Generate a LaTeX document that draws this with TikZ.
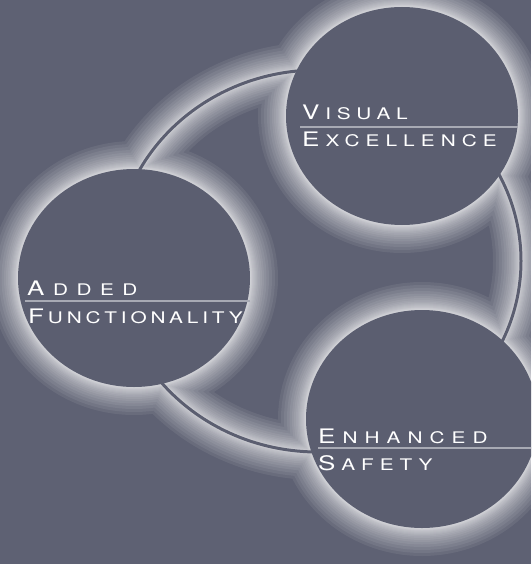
\documentclass[tikz,border=0pt]{standalone}
\usepackage{fontspec}
\usetikzlibrary{shapes.geometric}
\newfontfamily\bigcapfont[FakeStretch=1.3]{TeX Gyre Heros}
\newfontfamily\smallcapfont[FakeStretch=1.3]{TeX Gyre Heros}
% #1 = letter spacing (percent of the small size)
\newcommand\capword[3][40]{{\fontsize{20}{20}\bigcapfont #2}\kern\dimexpr #1pt*16/100\relax
  {\fontsize{16}{16}\smallcapfont\addfontfeatures{LetterSpace=#1}#3}}

\definecolor{slatebg}{RGB}{94,97,115}
\definecolor{discfill}{RGB}{91,94,112}
\definecolor{rulegray}{RGB}{168,170,180}

\tikzset{
  disc/.style={ellipse, fill=discfill, minimum width=232pt, minimum height=218pt, inner sep=0pt},
  word/.style={inner sep=0pt, anchor=base west, text=white},
  textrule/.style={draw=rulegray, line width=2pt},
  ringline/.style={draw=discfill, line width=3pt},
}

\begin{document}
\begin{tikzpicture}[x=1pt, y=-1pt]
  \useasboundingbox (0,0) rectangle (531,564);
  \clip (0,0) rectangle (531,564);
  \fill[slatebg] (0,0) rectangle (531,564);

  % centres
  \coordinate (ringc) at (318,261);
  \coordinate (vc) at (402,116);
  \coordinate (fc) at (134,278);
  \coordinate (sc) at (422,419);

  % glow
  \foreach \w in {2,3,4,5,6,8,10,12,14,17,20,24,28,33,38,44,50,56}
    \draw[white, opacity=0.07, line width=\w pt]
      (ringc) ellipse (203pt and 191pt)
      (vc) ellipse (116pt and 109pt)
      (fc) ellipse (116pt and 109pt)
      (sc) ellipse (116pt and 109pt);

  \draw[ringline] (ringc) ellipse (203pt and 191pt);

  \node[disc] (visual) at (vc) {};
  \node[disc] (func) at (fc) {};
  \node[disc] (safety) at (sc) {};

  % labels
  \node[word] (visual1) at (302,120) {\capword[36]{V}{ISUAL}};
  \node[word] (visual2) at (302,146.7) {\capword[38]{E}{XCELLENCE}};
  \coordinate (visualrule) at (300,126.7);
  \draw[textrule] (visualrule) -- (visualrule -| visual.east);

  \node[word] (func1) at (27,295) {\capword[53]{A}{DDED}};
  \node[word] (func2) at (28,323) {\capword[24]{F}{UNCTIONALITY}};
  \coordinate (funcrule) at (25,301);
  \draw[textrule] (funcrule) -- (funcrule -| func.east);

  \node[word] (safety1) at (318,443) {\capword[44]{E}{NHANCED}};
  \node[word] (safety2) at (318,470) {\capword[37]{S}{AFETY}};
  \coordinate (safetyrule) at (318,448);
  \draw[textrule] (safetyrule) -- (safetyrule -| safety.east);
\end{tikzpicture}
\end{document}
